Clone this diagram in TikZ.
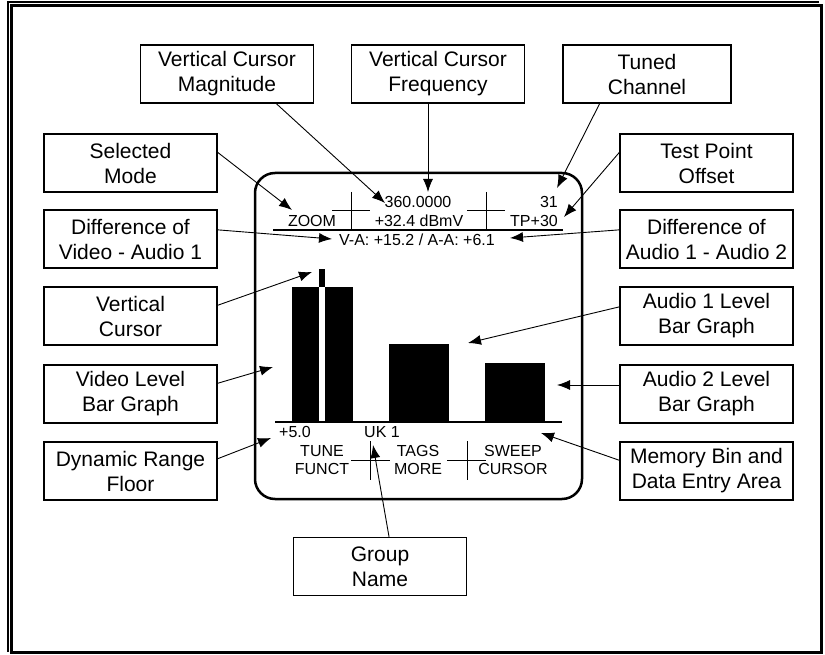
\documentclass[tikz,border=0pt]{standalone}
\usepackage{fontspec}
\setmainfont{Liberation Sans}
\usepackage{tikz}
\usetikzlibrary{arrows.meta}
\tikzset{>={Latex[length=13pt,width=10pt]},
  label box/.style={draw, line width=1.2pt, minimum width=173pt, minimum height=58pt,
    align=center, inner sep=0pt, font=\fontsize{21}{25}\selectfont},
  screen text/.style={inner sep=0pt, align=center, font=\fontsize{16}{18}\selectfont},
  pointer/.style={->, line width=0.9pt},
  hair/.style={line width=1pt},
  heavy/.style={line width=2.5pt}}

\begin{document}
\begin{tikzpicture}[x=1pt,y=-1pt]

    \useasboundingbox (0,0) rectangle (825,655);

    % frame
    \draw [heavy] (11.5,5.5) rectangle (821.5,652.5);
    \draw [line width=2pt] (8,652) -- (8,2) -- (819,2);

    % the display
    \draw [heavy, rounded corners=20pt] (255,173) rectangle (582,499);
    \draw [line width=2pt] (273,230) -- (563,230);
    \draw [hair] (351,192) -- (351,230);
    \draw [hair] (332,211) -- (370,211);
    \draw [hair] (486,192) -- (486,230);
    \draw [hair] (467,211) -- (505,211);
    \draw [hair] (370,441) -- (370,480);
    \draw [hair] (351,460) -- (390,460);
    \draw [hair] (467,441) -- (467,480);
    \draw [hair] (447,460) -- (486,460);

	\fill (292,287) rectangle (353,422);
	\fill [white] (319,287) rectangle (325,422);
	\fill (319,269) rectangle (325,287);
	\fill (389,344) rectangle (449,422);
	\fill (485,363) rectangle (545,422);
	\draw [heavy] (275,422) -- (562,422);

	\node [screen text] (cfreq) at (418,202) {360.0000};
	\node [screen text, anchor=east] (chan) at (558,202) {31};
	\node [screen text] (zoom) at (312,221) {ZOOM};
	\node [screen text] (cmag) at (419,221) {+32.4 dBmV};
	\node [screen text, anchor=east] (tp) at (558,221) {TP+30};
	\node [screen text] (diff) at (417,240) {V-A: +15.2 / A-A: +6.1};
	\node [screen text] (range) at (295,432) {+5.0};
	\node [screen text] (group) at (382,432) {UK 1};
	\node [screen text] (tune) at (322,460) {TUNE\\FUNCT};
	\node [screen text] (tags) at (418,460) {TAGS\\MORE};
	\node [screen text] (sweep) at (513,460) {SWEEP\\CURSOR};

    % callouts
	\node [label box] (mag) at (227,74) {Vertical Cursor\\Magnitude};
	\node [label box] (freq) at (438,74) {Vertical Cursor\\Frequency};
	\node [label box, minimum width=168pt] (tuned) at (647,74) {Tuned\\Channel};
	\node [label box] (mode) at (130.5,163) {Selected\\Mode};
	\node [label box] (vidaud) at (130.5,239) {Difference of\\Video - Audio 1};
	\node [label box] (vcur) at (130.5,316) {Vertical\\Cursor};
	\node [label box] (vidlvl) at (130.5,394) {Video Level\\Bar Graph};
	\node [label box] (floor) at (130.5,471) {Dynamic Range\\Floor};
	\node [label box] (tpo) at (706.5,163) {Test Point\\Offset};
	\node [label box] (audaud) at (706.5,239) {Difference of\\Audio 1 - Audio 2};
	\node [label box] (aone) at (706.5,316) {Audio 1 Level\\Bar Graph};
	\node [label box] (atwo) at (706.5,394) {Audio 2 Level\\Bar Graph};
	\node [label box] (mem) at (706.5,471) {Memory Bin and\\Data Entry Area};
	\node [label box] (grp) at (380,566.5) {Group\\Name};

	\coordinate (tMode) at (292,210);
	\coordinate (tMag) at (385,203);
	\coordinate (tFreq) at (428,192);
	\coordinate (tTuned) at (557,188);
	\coordinate (tTpo) at (564,217);
	\coordinate (tVidAud) at (332,239);
	\coordinate (tAudAud) at (510,238);
	\coordinate (tCur) at (312,272);
	\coordinate (tVid) at (273,367);
	\coordinate (tFloor) at (271,438);
	\coordinate (tAone) at (468,343);
	\coordinate (tAtwo) at (557,385);
	\coordinate (tMem) at (541,433);
	\coordinate (tGrp) at (373,445);

	\draw [pointer] (mode.7) -- (tMode);
	\draw [pointer] (mag.-31) -- (tMag);
	\draw [pointer] (freq.south -| tFreq) -- (tFreq);
	\draw [pointer] (tuned.-148) -- (tTuned);
	\draw [pointer] (tpo.173) -- (tTpo);
	\draw [pointer] (vidaud.6) -- (tVidAud);
	\draw [pointer] (audaud.174) -- (tAudAud);
	\draw [pointer] (vcur.7) -- (tCur);
	\draw [pointer] (vidlvl.7) -- (tVid);
	\draw [pointer] (floor.8) -- (tFloor);
	\draw [pointer] (aone.174) -- (tAone);
	\draw [pointer] (atwo.west |- tAtwo) -- (tAtwo);
	\draw [pointer] (mem.173) -- (tMem);
	\draw [pointer] (grp.73) -- (tGrp);

\end{tikzpicture}
\end{document}
